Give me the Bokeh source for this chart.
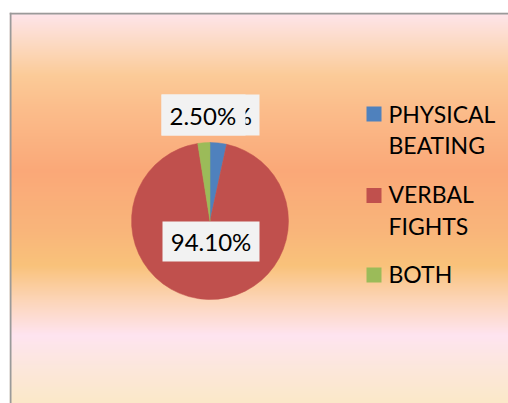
import numpy as np
from bokeh.plotting import figure
from bokeh.models import Range1d, Span
from bokeh.core.properties import value
from bokeh.embed import file_html
from bokeh.resources import INLINE

# ---- data ----
categories = ["PHYSICAL BEATING", "VERBAL FIGHTS", "BOTH"]
percentages = [3.40, 94.10, 2.50]
colors = ["#4F81BD", "#C0504D", "#9BBB59"]
label_texts = ["3.40%", "94.10%", "2.50%"]

FONT = "Lato"

# page-pixel based coordinates: x = page x, y = 403 - page y
p = figure(width=508, height=403, output_backend="svg", toolbar_location=None,
           x_axis_type=None, y_axis_type=None,
           x_range=Range1d(9, 508), y_range=Range1d(0, 391),
           min_border_left=9, min_border_top=12, min_border_right=0, min_border_bottom=0)
p.grid.visible = False
p.outline_line_color = None
p.border_fill_color = "white"
p.background_fill_color = None

def Y(py):
    return 403 - py

# ---- background vertical gradient (decoration) ----
stops_y = [12, 45, 75, 105, 170, 230, 265, 300, 335, 370, 403]
stops_c = ["#FEE5EC", "#FCD9C0", "#FBCB98", "#FBBE8C", "#FAA878", "#F9B57A",
           "#F9C27A", "#FCD5B8", "#FEE4F0", "#FCE7DA", "#FBE8C8"]
def hex2rgb(h):
    return [int(h[i:i + 2], 16) for i in (1, 3, 5)]
rgb = np.array([hex2rgb(c) for c in stops_c], dtype=float)
N = 391
rows_py = 403 - (np.arange(N) + 0.5)
img = np.zeros((N, 1), dtype=np.uint32)
view = img.view(dtype=np.uint8).reshape((N, 1, 4))
for k in range(3):
    view[:, 0, k] = np.round(np.interp(rows_py, stops_y, rgb[:, k])).astype(np.uint8)
view[:, 0, 3] = 255
p.image_rgba(image=[img], x=9, y=0, dw=499, dh=391)

# borders (left and top)
p.add_layout(Span(location=10, dimension="height", line_color="#9A9A9A", line_width=2))
p.add_layout(Span(location=Y(13), dimension="width", line_color="#9A9A9A", line_width=2))

# ---- pie ----
cx, cy, r = 209.5, Y(220.5), 78.5
vals = np.array(percentages)
frac = vals / vals.sum()
cum = np.concatenate([[0], np.cumsum(frac)])
starts = np.pi / 2 - 2 * np.pi * cum[:-1]
ends = np.pi / 2 - 2 * np.pi * cum[1:]
p.wedge(x=cx, y=cy, radius=r, radius_units="screen", start_angle=starts, end_angle=ends,
        direction="clock", fill_color=colors, line_color=colors, line_width=0.5)

# ---- data labels ----
# 94.10% label
p.rect(x=[210.5], y=[Y(241)], width=97, height=40, width_units="screen",
       height_units="screen", fill_color="#F2F2F2", line_color=None)
p.text(x=[210.5], y=[Y(241)], text=[label_texts[1]],
       text_font=value(FONT), text_font_size="24px", text_color="#000000",
       text_align="center", text_baseline="middle")
# 3.40% label, mostly hidden behind the 2.50% label
p.rect(x=[210.0], y=[Y(114.5)], width=98, height=41, width_units="screen",
       height_units="screen", fill_color="#F2F2F2", line_color=None)
p.text(x=[251.5], y=[Y(114.5)], text=[label_texts[0]],
       text_font=value(FONT), text_font_size="24px", text_color="#000000",
       text_align="right", text_baseline="middle")
p.rect(x=[203.0], y=[Y(114.5)], width=84, height=41, width_units="screen",
       height_units="screen", fill_color="#F2F2F2", line_color=None)
p.text(x=[169], y=[Y(114.5)], text=[label_texts[2]],
       text_font=value(FONT), text_font_size="24px", text_color="#000000",
       text_align="left", text_baseline="middle")

# ---- legend ----
leg_sq_y = [113.5, 195, 274.5]
p.rect(x=[373.5] * 3, y=[Y(v) for v in leg_sq_y], width=15, height=15,
       width_units="screen", height_units="screen", fill_color=colors, line_color=None)
base_first = [113.0, 193.5, 273.5]
lx, ly, lt = [], [], []
for cat, b in zip(categories, base_first):
    for j, word in enumerate(cat.split(" ")):
        lx.append(388)
        ly.append(Y(b + 31.5 * j))
        lt.append(word)
p.text(x=lx, y=ly, text=lt, text_font=value(FONT), text_font_size="23px",
       text_color="#000000", text_align="left", text_baseline="alphabetic")

open("out.html", "w").write(file_html(p, INLINE))
